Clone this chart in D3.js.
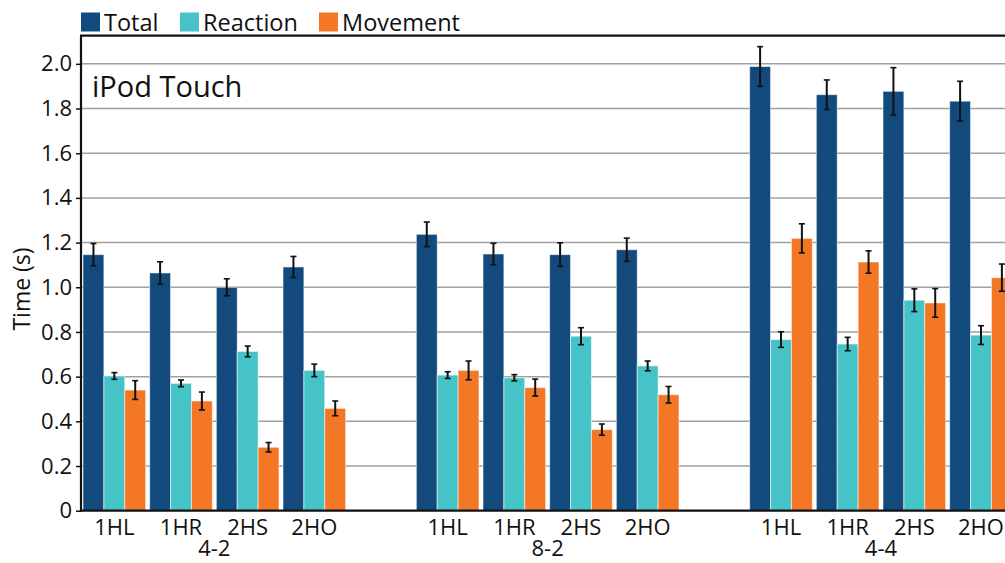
<!DOCTYPE html>
<html><head><meta charset="utf-8">
<script src="https://cdn.jsdelivr.net/npm/d3@7"></script>
<style>body{margin:0;background:#fff}svg{display:block}text{font-family:"Open Sans",sans-serif;fill:#111}</style>
</head><body><svg id="c" width="1005" height="563"></svg>
<script>
const groups = ["4-2", "8-2", "4-4"];
const conditions = ["1HL", "1HR", "2HS", "2HO"];
const series = ["Total", "Reaction", "Movement"];
const seriesColors = ["#124a7e", "#46c3c6", "#f47726"];

// means and error half-widths, [group][condition]
const totalMean    = [[1.146, 1.064, 1.000, 1.091], [1.237, 1.149, 1.146, 1.168], [1.988, 1.862, 1.877, 1.833]];
const totalErr     = [[0.050, 0.050, 0.038, 0.047], [0.055, 0.048, 0.053, 0.052], [0.089, 0.066, 0.106, 0.089]];
const reactionMean = [[0.603, 0.570, 0.713, 0.628], [0.607, 0.595, 0.781, 0.648], [0.766, 0.746, 0.942, 0.786]];
const reactionErr  = [[0.015, 0.015, 0.024, 0.028], [0.015, 0.014, 0.038, 0.022], [0.035, 0.030, 0.051, 0.042]];
const movementMean = [[0.540, 0.491, 0.284, 0.458], [0.628, 0.551, 0.363, 0.519], [1.219, 1.113, 0.930, 1.043]];
const movementErr  = [[0.042, 0.040, 0.021, 0.033], [0.042, 0.038, 0.025, 0.037], [0.065, 0.050, 0.064, 0.061]];

const yTicks = [0, 0.2, 0.4, 0.6, 0.8, 1.0, 1.2, 1.4, 1.6, 1.8, 2.0];
const yMax = 2.126;
const panelTitle = "iPod Touch";
const yTitle = "Time (s)";

const means = [totalMean, reactionMean, movementMean];
const errs = [totalErr, reactionErr, movementErr];
const data = [];
groups.forEach((g, gi) => conditions.forEach((c, ci) => series.forEach((s, si) => {
  data.push({g, c, s, si, v: means[si][gi][ci], e: errs[si][gi][ci]});
})));

const svg = d3.select("#c");
const L = 81, T = 35.7, B = 510.7;
const groupStep = 333.33;
const R = L + groupStep * (3 - 0.2);

const y = d3.scaleLinear().domain([0, yMax]).range([B, T]);
const x0 = d3.scaleBand().domain(groups).range([L, R]).paddingInner(0.2).paddingOuter(0);
const x1 = d3.scaleBand().domain(conditions).range([0, x0.bandwidth()]).paddingInner(0.06).paddingOuter(0.03);
const x2 = d3.scaleBand().domain(series).range([0, x1.bandwidth()]);
const color = d3.scaleOrdinal().domain(series).range(seriesColors);

// gridlines
svg.append("g").selectAll("line").data(yTicks.filter(t => t > 0)).join("line")
  .attr("x1", L).attr("x2", 1010).attr("y1", d => y(d)).attr("y2", d => y(d))
  .attr("stroke", "#a0a0a0").attr("stroke-width", 1.5);

// bars
svg.append("g").selectAll("rect").data(data).join("rect")
  .attr("x", d => x0(d.g) + x1(d.c) + x2(d.s))
  .attr("width", x2.bandwidth())
  .attr("y", d => y(d.v))
  .attr("height", d => y(0) - y(d.v))
  .attr("fill", d => color(d.s))
  .attr("stroke", "#ffffff").attr("stroke-opacity", 0.55).attr("stroke-width", 1);

// error bars
const eg = svg.append("g").attr("stroke", "#111").attr("stroke-width", 2);
data.forEach(d => {
  const cx = x0(d.g) + x1(d.c) + x2(d.s) + x2.bandwidth() / 2;
  eg.append("line").attr("x1", cx).attr("x2", cx).attr("y1", y(d.v + d.e)).attr("y2", y(d.v - d.e));
  eg.append("line").attr("x1", cx - 3).attr("x2", cx + 3).attr("y1", y(d.v + d.e)).attr("y2", y(d.v + d.e)).attr("stroke-width", 1.6);
  eg.append("line").attr("x1", cx - 3).attr("x2", cx + 3).attr("y1", y(d.v - d.e)).attr("y2", y(d.v - d.e)).attr("stroke-width", 1.6);
});

// y axis
const yAxis = d3.axisLeft(y).tickValues(yTicks).tickSize(5).tickPadding(4)
  .tickFormat(d => d === 0 ? "0" : d3.format(".1f")(d));
const ya = svg.append("g").attr("transform", `translate(${L},0)`).call(yAxis);
ya.select(".domain").remove();
ya.selectAll(".tick line").attr("stroke", "#111").attr("stroke-width", 1.5);
ya.selectAll(".tick text").attr("font-size", 22).attr("font-family", "Open Sans").attr("fill", "#111");

// frame lines
svg.append("line").attr("x1", L).attr("x2", L).attr("y1", T).attr("y2", B + 1).attr("stroke", "#111").attr("stroke-width", 2.2);
svg.append("line").attr("x1", L - 1).attr("x2", 1010).attr("y1", T).attr("y2", T).attr("stroke", "#111").attr("stroke-width", 2.2);
svg.append("line").attr("x1", L - 1).attr("x2", 1010).attr("y1", B).attr("y2", B).attr("stroke", "#111").attr("stroke-width", 2.2);

// x labels
const xl = svg.append("g").attr("font-size", 22).attr("text-anchor", "middle");
groups.forEach(g => {
  conditions.forEach(c => {
    xl.append("text").attr("x", x0(g) + x1(c) + x1.bandwidth() / 2).attr("y", 535).text(c);
  });
  xl.append("text").attr("x", x0(g) + x0.bandwidth() / 2).attr("y", 556).text(g);
});

// y title
svg.append("text").attr("transform", "translate(30,289) rotate(-90)")
  .attr("text-anchor", "middle").attr("font-size", 23).text(yTitle);

// panel title
svg.append("text").attr("x", 92).attr("y", 97).attr("font-size", 29).text(panelTitle);

// legend
const legX = [81, 180, 319];
const lg = svg.append("g");
series.forEach((s, i) => {
  lg.append("rect").attr("x", legX[i]).attr("y", 12.5).attr("width", 19).attr("height", 19).attr("fill", color(s));
  lg.append("text").attr("x", legX[i] + 23).attr("y", 31).attr("font-size", 23.5).text(s);
});
</script></body></html>
